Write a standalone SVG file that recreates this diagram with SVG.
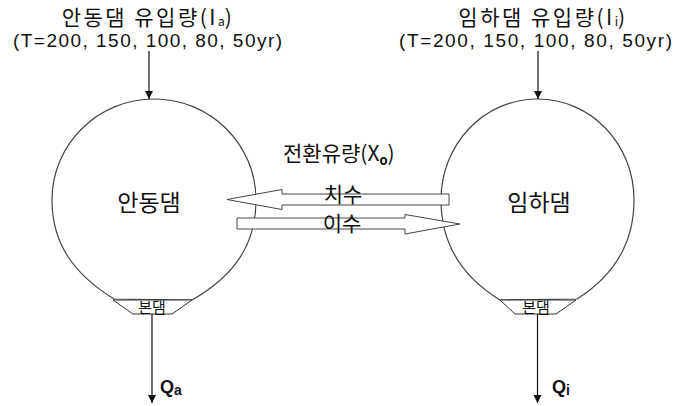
<svg xmlns="http://www.w3.org/2000/svg" width="676" height="406" viewBox="0 0 676 406">
<defs>
<style>
.k{font-family:"Noto Sans CJK KR","Noto Sans",sans-serif;fill:#111}
.l{font-family:"Liberation Sans","Noto Sans CJK KR",sans-serif;fill:#111}
.ball{fill:#fff;stroke:#444;stroke-width:1.2}
.trap{fill:#fff;stroke:#333;stroke-width:1}
.ln{stroke:#111;stroke-width:1.2;fill:none}
.hollow{fill:#fff;stroke:#444;stroke-width:1}
.t1{font-size:21px;letter-spacing:2.5px}
</style>
<marker id="ah" viewBox="0 0 10 10" refX="10" refY="5" markerWidth="8" markerHeight="8" markerUnits="userSpaceOnUse" orient="auto">
<path d="M0,0 L10,5 L0,10 Z" fill="#111"/>
</marker>
</defs>

<g id="title-andong">
<text class="k t1" x="148" y="25" text-anchor="middle">안동댐 유입량(I<tspan font-size="12" dy="1" letter-spacing="0">a</tspan><tspan dy="-1">)</tspan></text>
<text class="l" x="13" y="47" font-size="19" textLength="269" lengthAdjust="spacing">(T=200, 150, 100, 80, 50yr)</text>
</g>
<g id="title-imha">
<text class="k t1" x="543" y="25" text-anchor="middle">임하댐 유입량(I<tspan font-size="12" dy="1" letter-spacing="0">i</tspan><tspan dy="-1">)</tspan></text>
<text class="l" x="399" y="47" font-size="19" textLength="273" lengthAdjust="spacing">(T=200, 150, 100, 80, 50yr)</text>
</g>

<g id="andong">
<path class="ball" d="M114,299 C72,273 52,242 52,200 C52,144 98,99 154,99 C210,99 256,144 256,200 C256,245 234,276 192,300 Z"/>
<polygon class="trap" points="113,300 192,300 172,314 133,314"/>
<text class="k" x="152" y="313" font-size="15" text-anchor="middle">본댐</text>
<text class="k" x="149" y="211" font-size="23" text-anchor="middle">안동댐</text>
</g>

<g id="imha">
<path class="ball" d="M500,300 C461,276 441,243 441,200 C441,144 484,99 537.5,99 C591,99 634,144 634,200 C634,243 615,275 577,299 Z"/>
<polygon class="trap" points="500,300 576,300 556,314 515,314"/>
<text class="k" x="536" y="313" font-size="15" text-anchor="middle">본댐</text>
<text class="k" x="539" y="211" font-size="23" text-anchor="middle">임하댐</text>
</g>

<g id="transfer">
<text class="k" x="283" y="161" font-size="21">전환유량(X<tspan font-size="13" dy="4" font-weight="bold">o</tspan><tspan dy="-4">)</tspan></text>
<polygon class="hollow" points="449,194 282,194 282,189.5 227,199.5 282,209.5 282,205 449,205"/>
<polygon class="hollow" points="237,218 405,218 405,214.5 460,224 405,234 405,229 237,229"/>
<text class="k" x="343" y="202" font-size="21" text-anchor="middle">치수</text>
<text class="k" x="342" y="231" font-size="21" text-anchor="middle">이수</text>
</g>

<g id="connectors">
<line class="ln" x1="149" y1="51" x2="149" y2="99" marker-end="url(#ah)"/>
<line class="ln" x1="538" y1="51" x2="538" y2="99" marker-end="url(#ah)"/>
<line class="ln" x1="152" y1="314" x2="152" y2="403" marker-end="url(#ah)"/>
<line class="ln" x1="537.5" y1="314" x2="537.5" y2="403" marker-end="url(#ah)"/>
</g>

<g id="outflow-labels">
<text class="l" x="160" y="393" font-size="18" font-weight="bold">Q<tspan font-size="14" dy="2">a</tspan></text>
<text class="l" x="552" y="393" font-size="18" font-weight="bold">Q<tspan font-size="14" dy="2">i</tspan></text>
</g>
</svg>
